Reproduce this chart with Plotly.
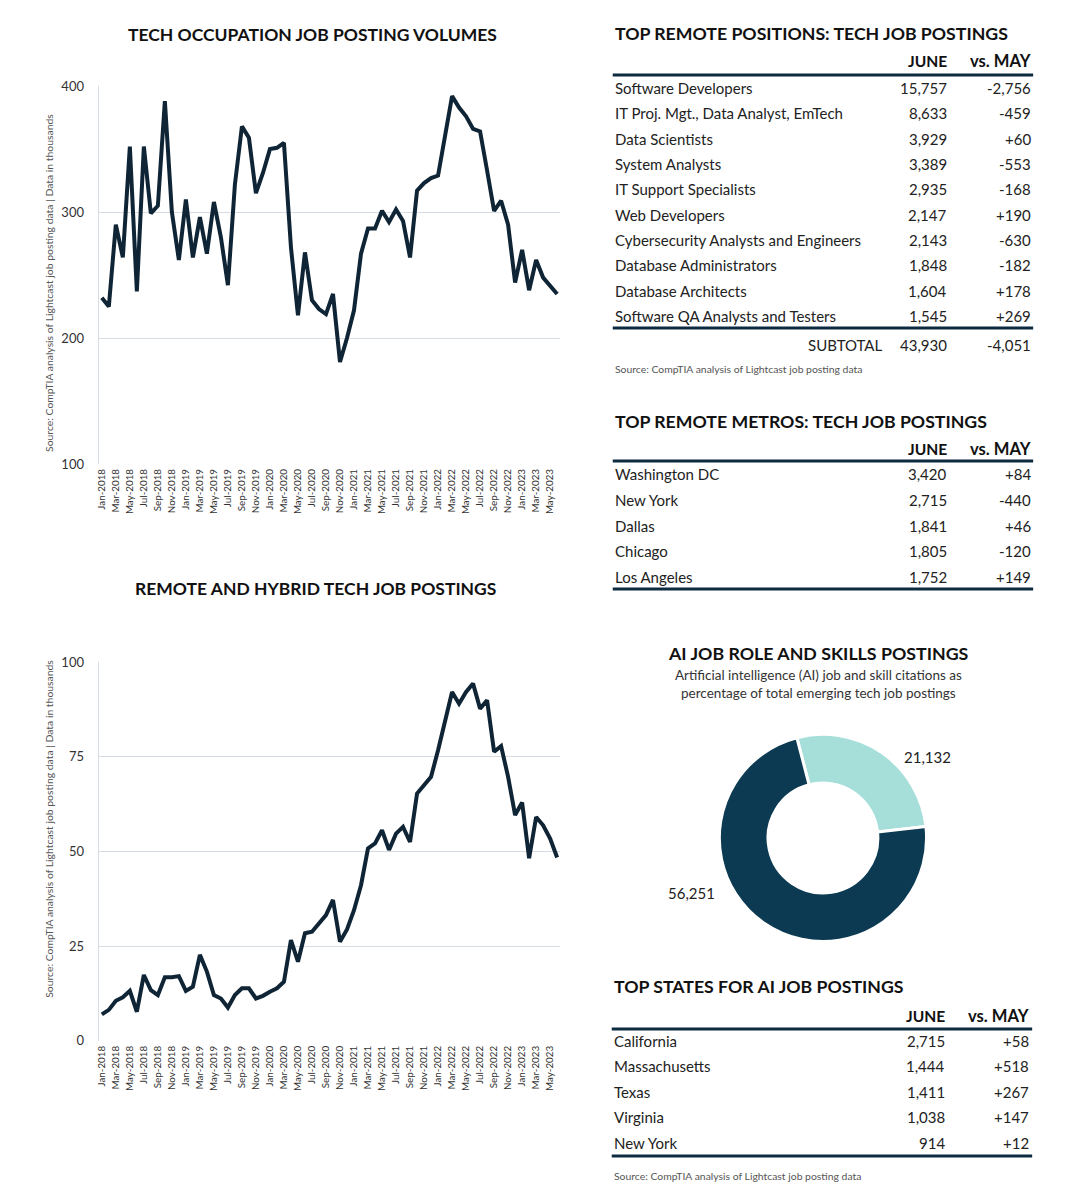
import plotly.graph_objects as go

# Page is 1082x1200; the default HTML body margin is 8px, so the figure is 1066x1184
W, H = 1066, 1184
OFF = 8
# observed vertical mapping of the photographed page: out = 8 + SY * page
SY = 1184 / 1200
FONT = "Lato"

# ---------------- data ----------------
months = [f"{m}-{y}" for y in range(2018, 2024)
          for m in ["Jan", "Feb", "Mar", "Apr", "May", "Jun", "Jul", "Aug", "Sep", "Oct", "Nov", "Dec"]][:66]

tech_postings = [232, 225, 290, 264, 352, 237, 352, 299, 305, 388, 300, 262,
                 310, 264, 296, 267, 308, 280, 242, 322, 368, 359, 315, 331,
                 350, 351, 355, 272, 218, 268, 230, 223, 219, 235, 181, 200,
                 222, 267, 287, 287, 301, 292, 302, 293, 264, 317, 323, 327,
                 329, 359, 392, 383, 376, 366, 364, 333, 301, 309, 290, 244,
                 270, 238, 262, 248, 242, 235]

remote_postings = [7.0, 8.2, 10.6, 11.5, 13.2, 7.7, 17.4, 13.4, 12.1, 16.8, 16.8, 17.1,
                   13.2, 14.3, 22.7, 18.3, 12.1, 11.2, 8.8, 12.1, 13.9, 13.9, 11.2, 11.9,
                   13.0, 13.9, 15.6, 26.6, 20.9, 28.4, 28.8, 31.0, 33.2, 37.2, 26.2, 29.4,
                   34.5, 41.1, 50.8, 52.1, 55.6, 50.4, 54.7, 56.5, 52.5, 65.3, 67.5, 69.7,
                   76.7, 84.6, 92.1, 89.0, 92.1, 94.3, 87.7, 89.9, 76.3, 77.8, 69.7, 59.6,
                   62.9, 48.2, 59.1, 56.9, 53.4, 48.4]

positions = ["Software Developers", "IT Proj. Mgt., Data Analyst, EmTech", "Data Scientists",
             "System Analysts", "IT Support Specialists", "Web Developers",
             "Cybersecurity Analysts and Engineers", "Database Administrators",
             "Database Architects", "Software QA Analysts and Testers"]
positions_june = [15757, 8633, 3929, 3389, 2935, 2147, 2143, 1848, 1604, 1545]
positions_vs_may = [-2756, -459, 60, -553, -168, 190, -630, -182, 178, 269]

metros = ["Washington DC", "New York", "Dallas", "Chicago", "Los Angeles"]
metros_june = [3420, 2715, 1841, 1805, 1752]
metros_vs_may = [84, -440, 46, -120, 149]

ai_labels = ["AI job and skill citations", "Other emerging tech job postings"]
ai_values = [21132, 56251]

states = ["California", "Massachusetts", "Texas", "Virginia", "New York"]
states_june = [2715, 1444, 1411, 1038, 914]
states_vs_may = [58, 518, 267, 147, 12]

SOURCE = "Source: CompTIA analysis of Lightcast job posting data"

# ---------------- helpers (target pixel -> paper) ----------------
def X(px):
    return (px - OFF) / W


def Y(py):
    page = (py - 8) / SY
    return 1 - (page - OFF) / H


NAVY = "#0f2536"
TXT = "#222222"
GRID = "#d5dce3"
ROW = 15

fig = go.Figure()
annotations = []
shapes = []


def text(x, y, s, size=ROW, bold=False, anchor="left", color=TXT, angle=0):
    if bold:
        s = f"<b>{s}</b>"
    annotations.append(dict(x=X(x), y=Y(y), xref="paper", yref="paper", text=s,
                            showarrow=False, xanchor=anchor, yanchor="middle",
                            borderpad=0, borderwidth=0,
                            textangle=angle, font=dict(family=FONT, size=size, color=color)))


def hline(x0, x1, y, width=3, color="#0d2b40"):
    shapes.append(dict(type="line", xref="paper", yref="paper", x0=X(x0), x1=X(x1),
                       y0=Y(y), y1=Y(y), line=dict(color=color, width=width)))


# ---------------- line charts ----------------
fig.add_trace(go.Scatter(x=months, y=tech_postings, mode="lines", xaxis="x", yaxis="y",
                         line=dict(color=NAVY, width=4), showlegend=False))
fig.add_trace(go.Scatter(x=months, y=remote_postings, mode="lines", xaxis="x2", yaxis="y2",
                         line=dict(color=NAVY, width=4), showlegend=False))

xcommon = dict(type="category", tickmode="array", tickvals=months[::2], ticktext=months[::2],
               tickangle=-90, tickfont=dict(family=FONT, size=9.8, color="#333"),
               showgrid=False, showline=False, zeroline=False, range=[-0.45, 65.4],
               ticks="", ticklabelstandoff=2)
ycommon = dict(showgrid=True, gridcolor=GRID, gridwidth=1.2, zeroline=False,
               showline=True, linecolor=GRID, linewidth=1.2,
               tickfont=dict(family=FONT, size=13, color="#333"), ticks="",
               ticklabelstandoff=11)

fig.update_layout(
    xaxis=dict(domain=[X(95), X(558)], anchor="y", **xcommon),
    yaxis=dict(domain=[Y(464), Y(86)], anchor="x", range=[100, 400],
               tickvals=[100, 200, 300, 400], **ycommon),
    xaxis2=dict(domain=[X(95), X(558)], anchor="y2", **xcommon),
    yaxis2=dict(domain=[Y(1041), Y(662)], anchor="x2", range=[0, 100],
                tickvals=[0, 25, 50, 75, 100], **ycommon),
)

text(310, 34, "TECH OCCUPATION JOB POSTING VOLUMES", size=17.5, bold=True, anchor="center", color="#111")
text(313, 588, "REMOTE AND HYBRID TECH JOB POSTINGS", size=17.5, bold=True, anchor="center", color="#111")
text(45, 283, SOURCE + " | Data in thousands", size=10.4, anchor="center", color="#555", angle=-90)
text(45, 829, SOURCE + " | Data in thousands", size=10.4, anchor="center", color="#555", angle=-90)


# ---------------- tables ----------------
def table(title_y, header_y, line_y, first_row, spacing, names, june, vs, bottom_y,
          title, xl=613, xj=947, xm=1031, xline0=611, xline1=1033):
    text(xl, title_y, title, size=17.7, bold=True, color="#111")
    text(xj, header_y, "JUNE", size=15.6, bold=True, anchor="right", color="#111")
    text(xm, header_y, "vs. MAY", size=16.6, bold=True, anchor="right", color="#111")
    hline(xline0, xline1, line_y)
    for i, (n, j, v) in enumerate(zip(names, june, vs)):
        yy = first_row + i * spacing
        text(xl, yy, n)
        text(xj, yy, f"{j:,}", anchor="right")
        text(xm, yy, f"{v:+,}", anchor="right")
    hline(xline0, xline1, bottom_y)


table(33, 61, 75, 88, 25.33, positions, positions_june, positions_vs_may, 328,
      "TOP REMOTE POSITIONS: TECH JOB POSTINGS")
text(882, 345, "SUBTOTAL", anchor="right")
text(947, 345, f"{sum(positions_june):,}", anchor="right")
text(1031, 345, f"{sum(positions_vs_may):+,}", anchor="right")
text(613, 369, SOURCE, size=10.4, color="#555")

table(421, 449, 461, 474, 25.75, metros, metros_june, metros_vs_may, 589,
      "TOP REMOTE METROS: TECH JOB POSTINGS")

table(987, 1016, 1029, 1041, 25.5, states, states_june, states_vs_may, 1156,
      "TOP STATES FOR AI JOB POSTINGS", xl=612, xj=945, xm=1029, xline0=610, xline1=1032)
text(612, 1176, SOURCE, size=10.4, color="#555")

# ---------------- donut ----------------
text(818, 653, "AI JOB ROLE AND SKILLS POSTINGS", size=17.8, bold=True, anchor="center", color="#111")
text(818, 675, "Artificial intelligence (AI) job and skill citations as", size=13.5, anchor="center", color="#333")
text(818, 693, "percentage of total emerging tech job postings", size=13.5, anchor="center", color="#333")

fig.add_trace(go.Pie(labels=ai_labels, values=ai_values, hole=0.53, sort=False,
                     direction="clockwise", rotation=-14.6, textinfo="none",
                     hoverinfo="label+value",
                     marker=dict(colors=["#a6dfda", "#0c3a52"], line=dict(color="white", width=3)),
                     domain=dict(x=[X(718), X(926)], y=[Y(942), Y(734)]),
                     showlegend=False))
text(927, 757, f"{ai_values[0]:,}", size=15, anchor="center")
text(690, 893, f"{ai_values[1]:,}", size=15, anchor="center")

fig.update_layout(width=W, height=H, margin=dict(l=0, r=0, t=0, b=0),
                  paper_bgcolor="white", plot_bgcolor="white",
                  annotations=annotations, shapes=shapes,
                  font=dict(family=FONT))

fig.write_html("out.html", config={"displayModeBar": False})
